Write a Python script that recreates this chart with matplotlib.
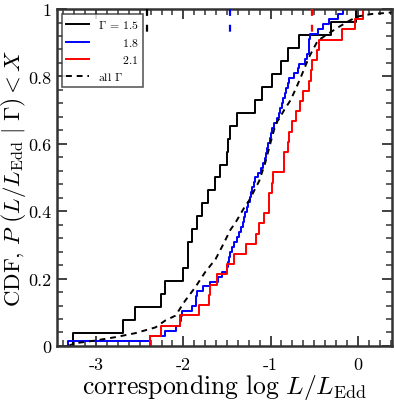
import numpy as np
import matplotlib
matplotlib.use("Agg")
import matplotlib.pyplot as plt
from matplotlib.ticker import MultipleLocator, FixedLocator, FixedFormatter

plt.rcParams["font.family"] = "serif"
plt.rcParams["font.serif"] = ["cmr10", "DejaVu Serif"]
plt.rcParams["mathtext.fontset"] = "cm"
plt.rcParams["axes.unicode_minus"] = False
plt.rcParams["axes.formatter.use_mathtext"] = True

# log L/LEdd values where each CDF steps up
gamma15 = [-3.26, -2.69, -2.56, -2.26, -2.21, -2.00, -1.95, -1.95, -1.90,
           -1.845, -1.79, -1.72, -1.64, -1.575, -1.50, -1.485, -1.47, -1.38,
           -1.18, -1.095, -0.98, -0.875, -0.795, -0.68, -0.31, -0.02]

gamma18 = [-3.32, -2.38, -2.21, -2.09, -2.04, -2.025, -2.02, -1.90, -1.86,
           -1.85, -1.84, -1.77, -1.69, -1.60, -1.557, -1.50, -1.485, -1.48,
           -1.47, -1.44, -1.42, -1.38, -1.36, -1.34, -1.32, -1.307, -1.29,
           -1.275, -1.26, -1.24, -1.225, -1.21, -1.19, -1.18, -1.15, -1.11,
           -1.09, -1.065, -1.05, -1.04, -1.03, -1.01, -1.00, -0.98, -0.96,
           -0.93, -0.905, -0.89, -0.87, -0.855, -0.84, -0.82, -0.80, -0.79,
           -0.73, -0.69, -0.67, -0.61, -0.58, -0.565, -0.56, -0.555, -0.55,
           -0.46, -0.40, -0.33, -0.23, -0.17]

gamma21 = [-2.38, -2.255, -2.04, -1.826, -1.71, -1.70, -1.615, -1.50, -1.42,
           -1.28, -1.165, -1.134, -1.076, -1.018, -1.015, -0.98, -0.978,
           -0.845, -0.843, -0.796, -0.79, -0.757, -0.71, -0.66, -0.634,
           -0.557, -0.54, -0.53, -0.47, -0.45, -0.18, -0.03, 0.06]

# combined curve (all Gamma)
all_x = [-3.32, -3.24, -3.01, -2.78, -2.55, -2.32, -2.21, -2.09, -1.98,
         -1.864, -1.75, -1.63, -1.54, -1.46, -1.40, -1.29, -1.25, -1.17,
         -1.13, -1.06, -1.00, -0.94, -0.90, -0.845, -0.77, -0.70, -0.65,
         -0.56, -0.46, -0.35, -0.23, -0.10, 0.0, 0.15, 0.4]
all_y = [0.0, 0.008, 0.016, 0.026, 0.038, 0.055, 0.075, 0.09, 0.134,
         0.174, 0.219, 0.258, 0.303, 0.345, 0.367, 0.416, 0.43, 0.47,
         0.49, 0.545, 0.604, 0.66, 0.675, 0.70, 0.73, 0.77, 0.80,
         0.857, 0.906, 0.925, 0.945, 0.965, 0.978, 0.985, 0.99]

# short dashed markers along the top
mark_x = [-2.42, -1.47, -0.53]
mark_c = ["black", "blue", "red"]


def cdf_step(ax, vals, color, label):
    v = np.sort(np.array(vals))
    n = len(v)
    xs = np.r_[v[0], v]
    ys = np.r_[0, np.arange(1, n + 1) / n]
    ax.step(xs, ys, where="post", color=color, lw=1.4, label=label)


fig = plt.figure(figsize=(3.95, 4.02), dpi=100)
ax = fig.add_axes([0.144, 0.137, 0.848, 0.838])

cdf_step(ax, gamma15, "black", r"$\Gamma$ = 1.5")
cdf_step(ax, gamma18, "blue", r"$\qquad\ $1.8")
cdf_step(ax, gamma21, "red", r"$\qquad\ $2.1")
ax.plot(all_x, all_y, color="black", lw=1.4, ls=(0, (3, 2.5)), label=r"all $\Gamma$")

for mx, mc in zip(mark_x, mark_c):
    ax.plot([mx, mx], [1.0, 0.93], color=mc, lw=1.6, ls=(0, (3.1, 4)),
            clip_on=False, zorder=5)

ax.set_xlim(-3.45, 0.39)
ax.set_ylim(0, 1)

ax.xaxis.set_major_locator(FixedLocator([-3, -2, -1, 0]))
ax.xaxis.set_major_formatter(FixedFormatter(["-3", "-2", "-1", "0"]))
ax.xaxis.set_minor_locator(MultipleLocator(0.125))
ax.yaxis.set_major_locator(FixedLocator([0, 0.2, 0.4, 0.6, 0.8, 1.0]))
ax.yaxis.set_major_formatter(FixedFormatter(["0", "0.2", "0.4", "0.6", "0.8", "1"]))
ax.yaxis.set_minor_locator(MultipleLocator(0.04))

ax.tick_params(which="both", direction="in", top=True, right=True, color="#333333")
ax.tick_params(which="major", length=7, width=1.3, labelsize=13)
ax.tick_params(axis="x", which="major", pad=8)
ax.tick_params(axis="y", which="major", pad=4)
ax.tick_params(which="minor", length=4, width=1.1)
for s in ax.spines.values():
    s.set_linewidth(1.8)
    s.set_color("#333333")

ax.set_xlabel(r"$\mathrm{corresponding}\ \log\, L/L_{\mathrm{Edd}}$", fontsize=18.5)
ax.xaxis.set_label_coords(0.5, -0.076)
ax.set_ylabel(r"CDF, $P\ \left(L/L_{\mathrm{Edd}}\ |\ \Gamma\right) < X$", fontsize=16.5)
ax.yaxis.set_label_coords(-0.087, 0.5)

leg = ax.legend(loc="upper left", fontsize=8.5, frameon=True, fancybox=False,
                edgecolor="#333333", handlelength=1.9, labelspacing=0.45,
                borderpad=0.35, handletextpad=0.8, borderaxespad=0.45)
leg.get_frame().set_linewidth(1.2)

fig.savefig("out.png", dpi=100)
